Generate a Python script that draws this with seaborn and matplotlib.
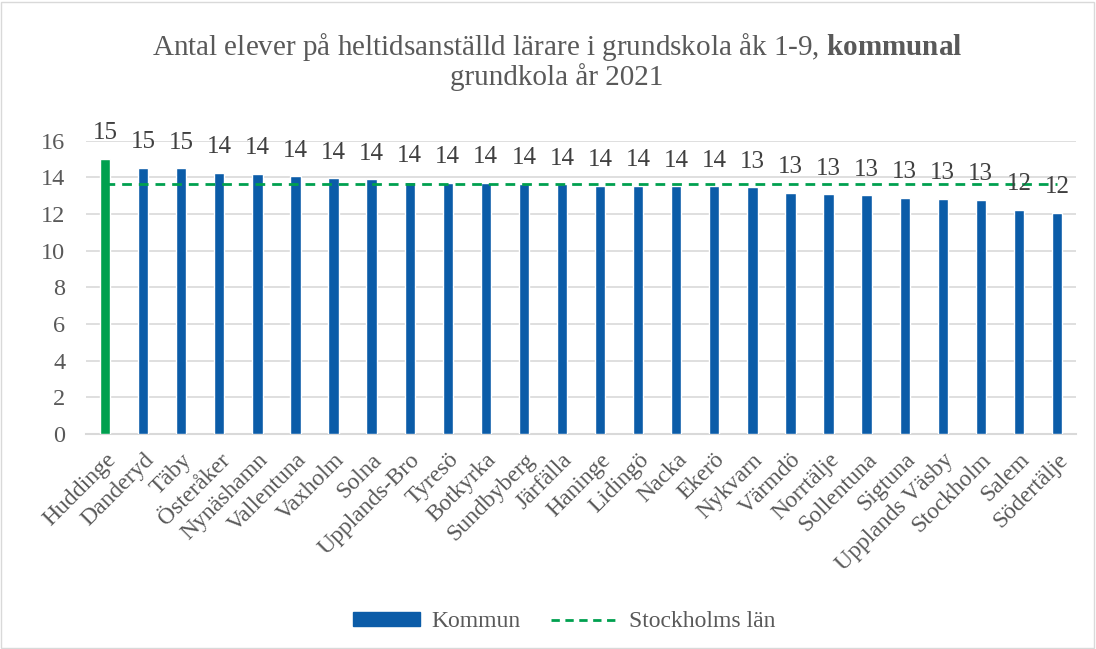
import matplotlib
matplotlib.use("Agg")
import matplotlib.pyplot as plt
import seaborn as sns
from matplotlib.patches import Patch, Rectangle
from matplotlib.lines import Line2D

# DATA

kommuner = ["Huddinge", "Danderyd", "Täby", "Österåker", "Nynäshamn", "Vallentuna",
            "Vaxholm", "Solna", "Upplands-Bro", "Tyresö", "Botkyrka", "Sundbyberg",
            "Järfälla", "Haninge", "Lidingö", "Nacka", "Ekerö", "Nykvarn", "Värmdö",
            "Norrtälje", "Sollentuna", "Sigtuna", "Upplands Väsby", "Stockholm",
            "Salem", "Södertälje"]
elever = [15.0, 14.51, 14.5, 14.25, 14.18, 14.06, 13.95, 13.89, 13.76, 13.69, 13.69,
          13.64, 13.62, 13.55, 13.53, 13.51, 13.51, 13.45, 13.14, 13.07, 13.02,
          12.89, 12.82, 12.78, 12.24, 12.07]
stockholms_lan = 13.62
yticks = [0, 2, 4, 6, 8, 10, 12, 14, 16]

BLUE = "#0B5CA8"
GREEN = "#00A04F"
GREY = "#595959"

sns.set_theme(style="white")
plt.rcParams["font.family"] = ["Liberation Serif", "DejaVu Serif"]
plt.rcParams["mathtext.fontset"] = "custom"
plt.rcParams["mathtext.rm"] = "Liberation Serif"
plt.rcParams["mathtext.bf"] = "Liberation Serif:bold"

fig = plt.figure(figsize=(10.96, 6.49), dpi=100)
ax = fig.add_axes([0.0785, 0.3313, 0.9033, 0.4519])

colors = [GREEN if k == "Huddinge" else BLUE for k in kommuner]
sns.barplot(x=kommuner, y=elever, hue=kommuner, palette=colors, legend=False,
            width=0.27, ax=ax, zorder=3, saturation=1)

ax.hlines(stockholms_lan, 0, len(kommuner) - 1, colors=GREEN, linestyles=(0, (3.5, 2.5)),
          linewidth=2, zorder=4)

# data labels
for i, v in enumerate(elever):
    ax.text(i, v + 0.8, str(int(v + 0.5)), ha="center", va="bottom",
            fontsize=18, color="#404040", clip_on=False, zorder=5)

ax.set_ylim(0, 16)
ax.set_xlim(-0.5, len(kommuner) - 0.5)
ax.set_yticks(yticks)
ax.set_yticklabels([str(t) for t in yticks], fontsize=17.5, color=GREY)
ax.set_xticks(range(len(kommuner)))
ax.set_xticklabels(kommuner, rotation=45, ha="right", rotation_mode="anchor",
                   fontsize=17, color=GREY)
ax.tick_params(axis="x", length=0, pad=11)
ax.tick_params(axis="y", length=0, pad=15)
ax.yaxis.grid(True, color="#D9D9D9", linewidth=1.2, zorder=0)
for s in ["top", "right", "left"]:
    ax.spines[s].set_visible(False)
ax.spines["bottom"].set_color("#D9D9D9")
ax.spines["bottom"].set_linewidth(1.5)
ax.set_xlabel("")
ax.set_ylabel("")

fig.text(0.508, 0.928, "Antal elever på heltidsanställd lärare i grundskola åk 1-9, $\\mathbf{kommunal}$",
         ha="center", va="center", fontsize=21, color=GREY)
fig.text(0.508, 0.882, "grundkola år 2021", ha="center", va="center", fontsize=21, color=GREY)

handles = [Patch(facecolor=BLUE, edgecolor=BLUE),
           Line2D([0], [0], color=GREEN, linestyle=(0, (3, 2)), linewidth=2)]
fig.legend(handles, ["Kommun", "Stockholms län"], loc="center", ncol=2,
           bbox_to_anchor=(0.515, 0.042), frameon=False, fontsize=17,
           handlelength=2.8, handleheight=0.5, handletextpad=0.5,
           columnspacing=1.3, labelcolor=GREY)

fig.patches.append(Rectangle((0.001, 0.002), 0.997, 0.995, transform=fig.transFigure,
                             fill=False, edgecolor="#D9D9D9", linewidth=1))

fig.savefig("out.png", dpi=100)
